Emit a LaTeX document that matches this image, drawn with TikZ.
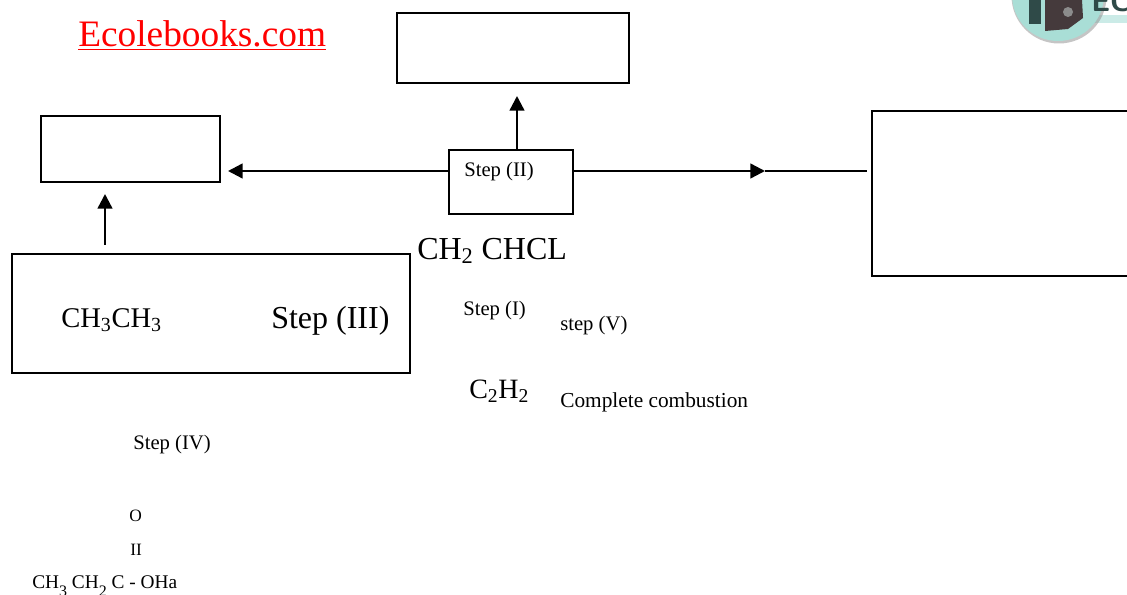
\documentclass[tikz,border=0pt]{standalone}
\usepackage{fontspec}
\setmainfont{Liberation Serif}
\usetikzlibrary{arrows.meta}
\definecolor{logoring}{HTML}{A9DED6}
\definecolor{logodark}{HTML}{2F4A48}
\definecolor{logobook}{HTML}{453A3C}
\newcommand{\pts}[1]{\fontsize{#1}{#1}\selectfont}
\tikzset{
  box/.style={draw,line width=0.9pt,minimum width=#1,inner sep=0pt},
  txt/.style={inner sep=0pt,anchor=base west},
  lnk/.style={line width=1.8pt,-{Triangle[length=11pt,width=11pt]}}
}

\begin{document}
\begin{tikzpicture}[x=0.75pt,y=-0.75pt]
  \clip (0,0) rectangle (1127,595);
  \fill[white] (0,0) rectangle (1127,595);
  % logo in the corner
  \fill[logoring!60!white] (1090,15) rectangle (1127,23);
  \fill[black!45,opacity=.5] (1059,-4) circle (47.5);
  \fill[logoring] (1058,-5) circle (46);
  \fill[logodark] (1029,0) rectangle (1041,24);
  \fill[logobook] (1045,0) -- (1082,0) -- (1083,18) -- (1068,29) -- (1045,31) -- cycle;
  \fill[black!45] (1068,12) circle (5);
  \node[txt,font=\sffamily\bfseries\pts{22},text=logodark] (logotxt) at (1091,12) {EC};
  % boxes
  \node[box=232*0.75pt,minimum height=70*0.75pt] (topbox) at (513,48) {};
  \node[box=179*0.75pt,minimum height=66*0.75pt] (leftbox) at (130.5,149) {};
  \node[box=124*0.75pt,minimum height=64*0.75pt] (stepbox) at (511,182) {};
  \node[box=300*0.75pt,minimum height=165*0.75pt] (rightbox) at (1022,193.5) {};
  \node[box=398*0.75pt,minimum height=119*0.75pt] (ethanebox) at (211,313.5) {};
  % free ends
  \coordinate (topend) at (517,96);
  \coordinate (leftend) at (228,171);
  \coordinate (rightend) at (765,171);
  \coordinate (rightin) at (867,171);
  \coordinate (upfrom) at (105,245);
  \coordinate (upend) at (105,194);
  \coordinate (stepleft) at (449,171);
  \coordinate (stepright) at (573,171);
  \coordinate (steptop) at (517,150);
  % arrows
  \draw[lnk] (steptop) -- (topend);
  \draw[lnk] (stepleft) -- (leftend);
  \draw[lnk] (stepright) -- (rightend);
  \draw[line width=0.8pt] (rightend) -- (rightin);
  \draw[lnk] (upfrom) -- (upend);
  % texts
  \node[txt,font=\pts{28},text=red] (site) at (78,47) {\underline{Ecolebooks.com}};
  \node[txt,font=\pts{15.5}] (stepII) at (464,177) {Step (II)};
  \node[txt,font=\pts{24}] (vinyl) at (417,259) {CH\textsubscript{2} CHCL};
  \node[txt,font=\pts{21.4}] (ethane) at (61,327) {CH\textsubscript{3}CH\textsubscript{3}};
  \node[txt,font=\pts{24}] (stepIII) at (271,328) {Step (III)};
  \node[txt,font=\pts{15.5}] (stepI) at (463,315) {Step (I)};
  \node[txt,font=\pts{15.5}] (stepV) at (560,330) {step (V)};
  \node[txt,font=\pts{21}] (ethyne) at (469,398) {C\textsubscript{2}H\textsubscript{2}};
  \node[txt,font=\pts{16}] (combust) at (560,407) {Complete combustion};
  \node[txt,font=\pts{15.5}] (stepIV) at (133,449) {Step (IV)};
  \node[txt,font=\pts{13}] (oxy) at (129,521) {O};
  \node[txt,font=\pts{13}] (dbl) at (130,555) {II};
  \node[txt,font=\pts{14.5}] (salt) at (32,588) {CH\raisebox{-6pt}{\pts{12}3} CH\raisebox{-6pt}{\pts{12}2} C - OHa};
\end{tikzpicture}
\end{document}
